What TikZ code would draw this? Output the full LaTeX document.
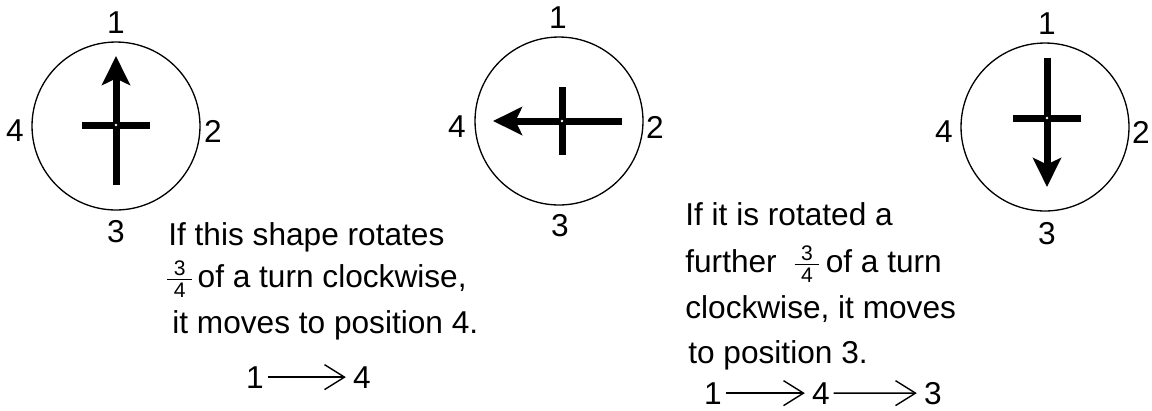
\documentclass[tikz,border=0pt]{standalone}
\usepackage{amsmath}
\usepackage{fontspec}
\setmainfont{Liberation Sans}
\usetikzlibrary{arrows.meta, positioning}

\newcommand{\qfrac}[2]{$\genfrac{}{}{1pt}{}%
  {\hbox to 14pt{\hss\fontsize{12}{12}\selectfont #1\hss}}%
  {\hbox to 14pt{\hss\fontsize{12}{12}\selectfont #2\hss}}$}

\begin{document}
\begin{tikzpicture}[
    x=0.02cm, y=-0.02cm,
    dial/.style={circle, draw, line width=0.75pt, minimum size=3.36cm, inner sep=0pt},
    poslabel/.style={inner sep=0pt, font=\fontsize{18}{21}\selectfont},
    txt/.style={anchor=base west, inner sep=0pt, font=\fontsize{18}{21}\selectfont},
    seqnum/.style={anchor=base, inner sep=0pt, font=\fontsize{18}{21}\selectfont},
    bar/.style={line width=0.14cm},
    head/.style={-{Stealth[length=0.58cm, width=0.56cm, inset=0.13cm]}},
    thinarr/.style={-{Straight Barb[length=0.4cm, width=0.5cm]}, line width=0.8pt,
                    shorten <=2pt, shorten >=4pt},
    turnshape/.pic={
      \draw[bar] (-34,0) -- (34,0);
      \draw[bar, head] (0,60) -- (0,-69);
      \fill[white] (0,0) circle (1.3);
    }
]
\useasboundingbox (0,0) rectangle (1152,410);

% the three dials
\node[dial] (dial1) at (116,126) {};
\node[dial] (dial2) at (559,121) {};
\node[dial] (dial3) at (1045,127) {};

\pic at (116,125) {turnshape};
\pic[rotate=90] at (562,121) {turnshape};
\pic[rotate=180] at (1047,118) {turnshape};

% positions round each dial
\node[poslabel] (d1top) at (116,23) {1};
\node[poslabel] (d1right) at (213,131) {2};
\node[poslabel] (d1bot) at (116,232) {3};
\node[poslabel] (d1left) at (15,131) {4};

\node[poslabel] (d2top) at (558,18) {1};
\node[poslabel] (d2right) at (655,127) {2};
\node[poslabel] (d2bot) at (560,226) {3};
\node[poslabel] (d2left) at (457,127) {4};

\node[poslabel] (d3top) at (1047,24) {1};
\node[poslabel] (d3right) at (1141,132) {2};
\node[poslabel] (d3bot) at (1047,234) {3};
\node[poslabel] (d3left) at (944,132) {4};

% first explanation
\node[txt] (l1) at (168,245) {If this shape rotates};
\node[txt] (l2) at (165,287) {\qfrac{3}{4}\hspace{2pt}of a turn clockwise,};
\node[txt] (l3) at (172,333) {it moves to position 4.};

\node[seqnum] (a1) at (255,388) {1};
\node[seqnum] (a4) at (362,388) {4};
\draw[thinarr] (a1) -- (a4);

% second explanation
\node[txt] (r1) at (685,225) {If it is rotated a};
\node[txt] (r2) at (685,272) {further\hspace{9pt}\qfrac{3}{4}\hspace{2.5pt}of a turn};
\node[txt] (r3) at (685,318) {clockwise, it moves};
\node[txt] (r4) at (688,363) {to position 3.};

\node[seqnum] (b1) at (713,404) {1};
\node[seqnum] (b4) at (821,404) {4};
\node[seqnum] (b3) at (933,404) {3};
\draw[thinarr] (b1) -- (b4);
\draw[thinarr] (b4) -- (b3);
\end{tikzpicture}
\end{document}
